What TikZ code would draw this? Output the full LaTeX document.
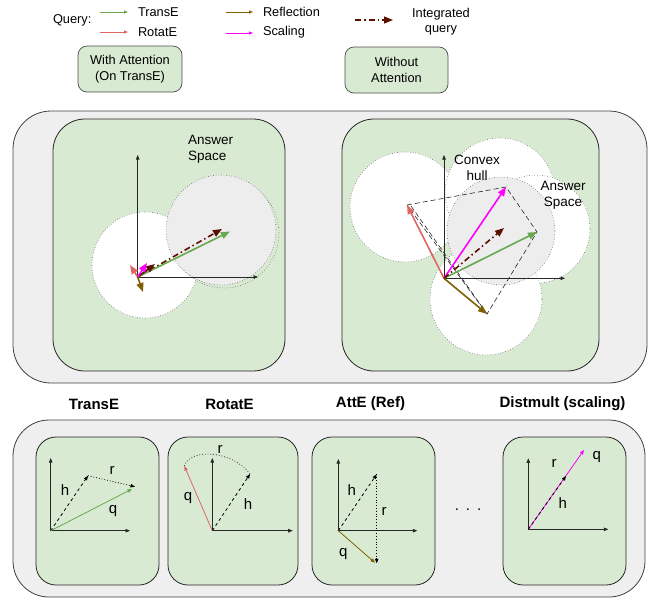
\documentclass[tikz,border=0pt]{standalone}
\usepackage{fontspec}
\setmainfont{Liberation Sans}
\usetikzlibrary{arrows.meta}
\definecolor{pgreen}{HTML}{D9EAD3}
\definecolor{pgray}{HTML}{EFEFEF}
\definecolor{agray}{HTML}{EDEDED}
\definecolor{cgreen}{HTML}{6AA84F}
\definecolor{cred}{HTML}{E06666}
\definecolor{cbrown}{HTML}{7F6000}
\definecolor{cmag}{HTML}{FF00FF}
\definecolor{cdark}{HTML}{5B0F00}
\begin{document}
\begin{tikzpicture}[x=1pt,y=-1pt,
  every node/.style={inner sep=0pt, outer sep=0pt},
  outerbox/.style={draw=black!75, fill=pgray, line width=0.8pt, rounded corners=38pt},
  bigpanel/.style={draw=black!85, fill=pgreen, line width=0.8pt, rounded corners=32pt},
  smallpanel/.style={draw=black!85, fill=pgreen, line width=0.8pt, rounded corners=20pt},
  legbox/.style={draw=black!70, fill=pgreen, line width=0.7pt, rounded corners=9pt, align=center, font=\fontsize{12.8}{16}\selectfont},
  txt/.style={font=\fontsize{12.8}{15}\selectfont},
  atxt/.style={font=\fontsize{13.5}{16}\selectfont, align=left},
  title/.style={font=\bfseries\fontsize{15}{17}\selectfont},
  lbl/.style={font=\fontsize{15}{17}\selectfont},
  axis/.style={-{Triangle[length=4.5pt,width=3.5pt]}, line width=0.7pt, black!85},
  vec/.style={-{Triangle[length=9pt,width=7pt]}, line width=1.6pt},
  svec/.style={-{Triangle[length=4.5pt,width=3.5pt]}, line width=0.8pt},
  legvec/.style={-{Triangle[length=4pt,width=3pt]}, line width=0.8pt},
  dashdot/.style={dash pattern=on 6pt off 3pt on 1.5pt off 3pt},
  wcirc/.style={draw=black!60, dotted, line width=0.6pt, fill=white},
  gcirc/.style={draw=black!60, dotted, line width=0.6pt, fill=agray},
  hull/.style={dash pattern=on 5pt off 3pt, line width=0.6pt, black!85}
]
\useasboundingbox (0,0) rectangle (655,598);

% ---------------- legend ----------------
\node[txt, anchor=west] (query) at (53,20) {Query:};
\coordinate (lg1) at (100,12); \coordinate (lg2) at (128,12);
\draw[legvec, cgreen] (lg1) -- (lg2);
\node[txt, anchor=west] (ltranse) at (138,12) {TransE};
\coordinate (lr1) at (100,32); \coordinate (lr2) at (128,32);
\draw[legvec, cred] (lr1) -- (lr2);
\node[txt, anchor=west] (lrotate) at (138,32) {RotatE};
\coordinate (lb1) at (226,12); \coordinate (lb2) at (253,12);
\draw[legvec, cbrown] (lb1) -- (lb2);
\node[txt, anchor=west] (lrefl) at (263,12) {Reflection};
\coordinate (lm1) at (226,33); \coordinate (lm2) at (253,33);
\draw[legvec, cmag] (lm1) -- (lm2);
\node[txt, anchor=west] (lscal) at (263,32) {Scaling};
\coordinate (ld1) at (355,20); \coordinate (ld2) at (393,20);
\draw[dashdot, cdark, line width=1.4pt, -{Triangle[length=9pt,width=7pt]}] (ld1) -- (ld2);
\node[txt, align=center] (linteg) at (441,22) {Integrated\\query};

\node[legbox, minimum width=104pt, minimum height=46pt] (withatt) at (130,69) {With Attention\\ (On TransE)};
\node[legbox, minimum width=103pt, minimum height=46pt] (withoutatt) at (396.5,70) {Without\\Attention};

% ---------------- top panel ----------------
\node[outerbox, minimum width=634pt, minimum height=272pt, anchor=north west] (topbox) at (13,111) {};
\node[bigpanel, minimum width=232pt, minimum height=252pt, anchor=north west] (P1) at (53,119) {};
\node[bigpanel, minimum width=257pt, minimum height=252pt, anchor=north west] (P2) at (342,119) {};

% panel 1 (with attention)
\draw[wcirc] (145,265) circle[radius=53pt];
\draw[draw=black!60, dotted, line width=0.6pt] (224,233) circle[radius=55pt];
\draw[gcirc] (221,230) circle[radius=55pt];
\node[atxt, anchor=north west] (as1) at (188,135) {Answer\\Space};
\coordinate (O1) at (137.7,277);
\coordinate (Y1) at (137.7,155);
\coordinate (X1) at (258,277);
\draw[axis] (O1) -- (Y1);
\draw[axis] (O1) -- (X1);
\coordinate (d1) at (222,229);
\coordinate (g1) at (230,231.5);
\draw[vec, cdark, dashdot] (O1) -- (d1);
\draw[vec, cgreen] (O1) -- (g1);
\coordinate (r1) at (130,265);
\coordinate (m1) at (147,263);
\coordinate (k1) at (155,264);
\coordinate (b1) at (143,292);
\draw[vec, cred] (O1) -- (r1);
\draw[vec, cdark] (O1) -- (k1);
\draw[vec, cmag] (O1) -- (m1);
\draw[vec, cbrown] (O1) -- (b1);

% panel 2 (without attention)
\draw[wcirc] (405,207) circle[radius=55pt];
\draw[wcirc] (500,193) circle[radius=55pt];
\draw[wcirc] (536,229) circle[radius=54pt];
\draw[wcirc] (486,299) circle[radius=56pt];
\draw[gcirc] (501,231) circle[radius=54pt];
\node[atxt, align=center] (convex) at (477,168) {Convex\\hull};
\node[atxt, align=center] (as2) at (563,195) {Answer\\Space};
\coordinate (O2) at (444,278.3);
\coordinate (Y2) at (444,155);
\coordinate (X2) at (565,278.3);
\draw[axis] (O2) -- (Y2);
\draw[axis] (O2) -- (X2);
\coordinate (r2) at (407,205);
\coordinate (m2) at (506,187);
\coordinate (g2) at (537,232);
\coordinate (b2) at (487,314);
\coordinate (d2) at (504,228);
\coordinate (r2b) at (411,206);
\draw[hull] (r2) -- (m2) -- (g2) -- (b2) -- (r2);
\draw[hull] (r2b) -- (b2);
\draw[vec, cred] (O2) -- (r2);
\draw[vec, cmag] (O2) -- (m2);
\draw[vec, cgreen] (O2) -- (g2);
\draw[vec, cbrown] (O2) -- (b2);
\draw[vec, cdark, dashdot] (O2) -- (d2);

% ---------------- bottom panel ----------------
\node[title] (tA) at (94,404) {TransE};
\node[title] (tB) at (229.5,404) {RotatE};
\node[title] (tC) at (370.5,404) {AttE (Ref)};
\node[title] (tD) at (562.5,404) {Distmult (scaling)};

\node[outerbox, rounded corners=36pt, minimum width=632pt, minimum height=177pt, anchor=north west] (botbox) at (13,420) {};
\node[smallpanel, minimum width=123pt, minimum height=148pt, anchor=north west] (PA) at (36,437) {};
\node[smallpanel, minimum width=130pt, minimum height=148pt, anchor=north west] (PB) at (168,437) {};
\node[smallpanel, minimum width=123pt, minimum height=148pt, anchor=north west] (PC) at (312,437) {};
\node[smallpanel, minimum width=123pt, minimum height=148pt, anchor=north west] (PD) at (503,437) {};
\node[font=\fontsize{15}{15}\selectfont] (dots) at (468,510) {.\hspace{7pt}.\hspace{7pt}.};

% A: TransE
\coordinate (OA) at (50.7,530.7);
\coordinate (YA) at (50.7,458);
\coordinate (XA) at (130,530.7);
\draw[axis] (OA) -- (YA);
\draw[axis] (OA) -- (XA);
\coordinate (hA) at (88,475.7);
\coordinate (rA) at (135,486.7);
\coordinate (qA) at (132,489);
\draw[svec, dashed] (OA) -- (hA);
\draw[svec, dotted] (hA) -- (rA);
\draw[svec, cgreen] (OA) -- (qA);
\node[lbl] (lhA) at (65,490) {h};
\node[lbl] (lrA) at (112,470) {r};
\node[lbl] (lqA) at (113,511) {q};

% B: RotatE
\coordinate (OB) at (212.3,530.7);
\coordinate (YB) at (212.3,458);
\coordinate (XB) at (292.7,530.7);
\draw[axis] (OB) -- (YB);
\draw[axis] (OB) -- (XB);
\coordinate (hB) at (250,474);
\coordinate (qB) at (184.3,466);
\draw[svec, dashed] (OB) -- (hB);
\draw[svec, cred] (OB) -- (qB);
\draw[dotted, line width=0.8pt, black!80] (hB) .. controls (232,450) and (190,448) .. (qB);
\node[lbl] (lrB) at (220,449) {r};
\node[lbl] (lqB) at (188,498) {q};
\node[lbl] (lhB) at (248,504) {h};

% C: AttE (Ref)
\coordinate (OC) at (338.3,530.7);
\coordinate (YC) at (338.3,459);
\coordinate (XC) at (417.3,530.7);
\draw[axis] (OC) -- (YC);
\draw[axis] (OC) -- (XC);
\coordinate (hC) at (376.7,474.3);
\coordinate (rC) at (376.7,563.3);
\coordinate (qC) at (375,562.7);
\draw[svec, dashed] (OC) -- (hC);
\draw[svec, dotted] (hC) -- (rC);
\draw[svec, cbrown] (OC) -- (qC);
\node[lbl] (lhC) at (351.7,490) {h};
\node[lbl] (lrC) at (384,511.7) {r};
\node[lbl] (lqC) at (343.3,554) {q};

% D: Distmult
\coordinate (OD) at (528.3,529.3);
\coordinate (YD) at (528.3,458.3);
\coordinate (XD) at (608.3,529.3);
\draw[axis] (OD) -- (YD);
\draw[axis] (OD) -- (XD);
\coordinate (hD) at (566,476);
\coordinate (qD) at (584,450);
\draw[svec, cmag] (OD) -- (qD);
\draw[svec, dashed] (OD) -- (hD);
\node[lbl] (lrD) at (554,463.3) {r};
\node[lbl] (lqD) at (596.7,456.7) {q};
\node[lbl] (lhD) at (562.7,503.3) {h};
\end{tikzpicture}
\end{document}
